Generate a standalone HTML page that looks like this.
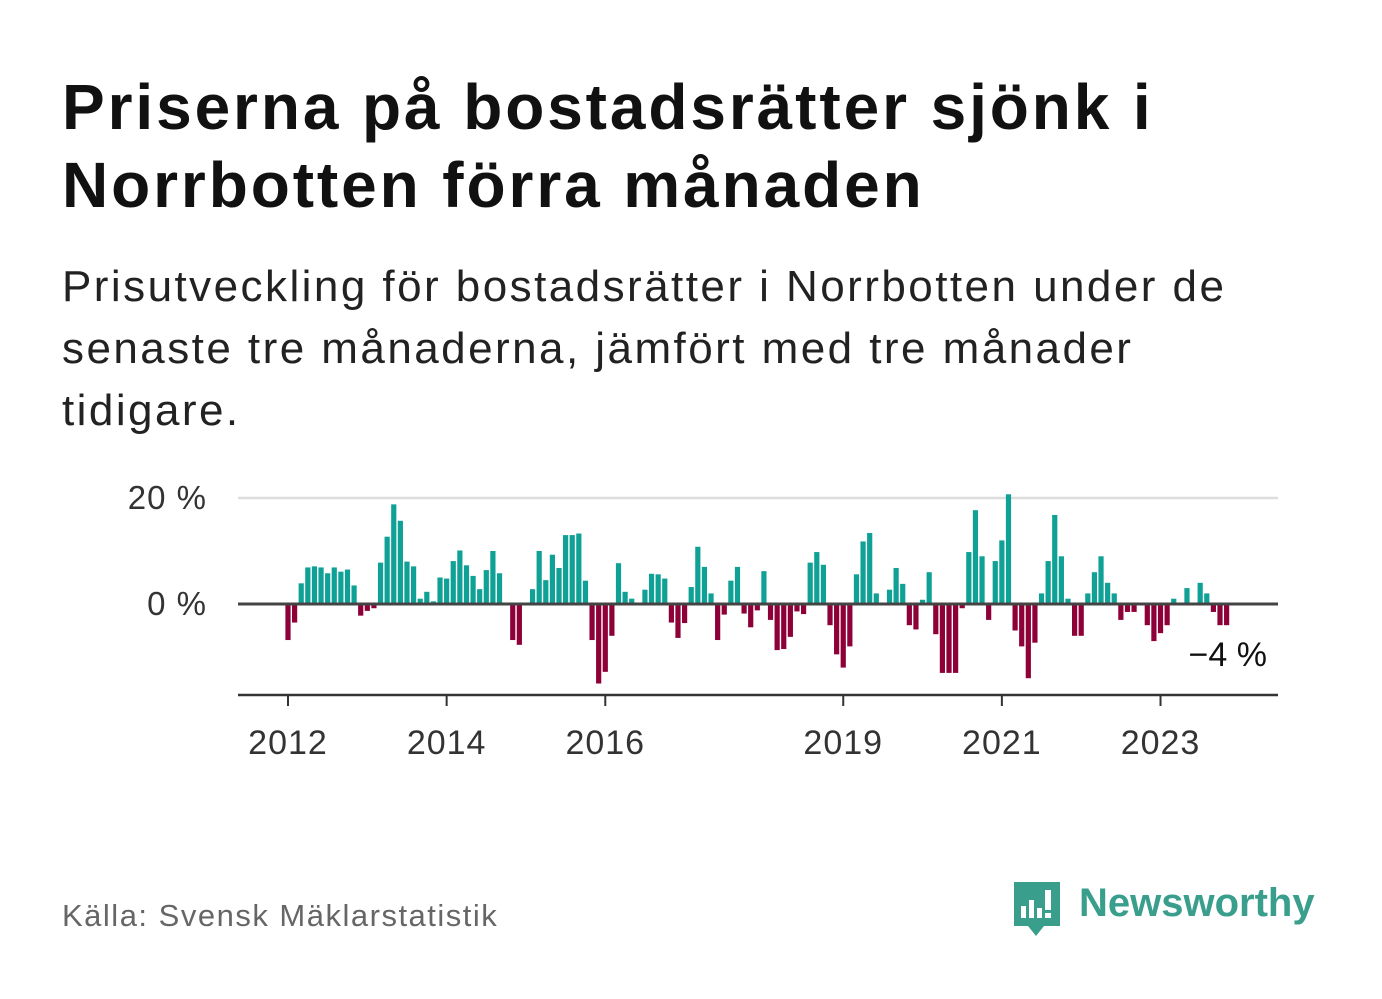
<!DOCTYPE html>
<html><head><meta charset="utf-8">
<style>
body{margin:0;background:#fff;width:1382px;height:999px;overflow:hidden;font-family:"Liberation Sans",sans-serif;}
.t{position:absolute;left:62px;top:68px;font-weight:bold;font-size:64px;line-height:78px;color:#111;letter-spacing:2.9px;margin:0}
.s{position:absolute;left:62px;top:256px;font-size:44px;line-height:62px;color:#222;margin:0;width:1250px;letter-spacing:2.45px}
.f{position:absolute;left:62px;top:898px;font-size:31px;color:#666;letter-spacing:1.5px}
</style></head><body>
<h1 class="t">Priserna på bostadsrätter sjönk i<br>Norrbotten förra månaden</h1>
<p class="s">Prisutveckling för bostadsrätter i Norrbotten under de<br>senaste tre månaderna, jämfört med tre månader<br>tidigare.</p>
<svg id="chart" width="1382" height="999" style="position:absolute;left:0;top:0" xmlns="http://www.w3.org/2000/svg"></svg>
<div class="f">Källa: Svensk Mäklarstatistik</div>
<div style="position:absolute;left:1012px;top:880px;width:310px;height:60px">
<svg width="50" height="60" style="position:absolute;left:0;top:0"><path d="M2 2h46v44h-16l-8 10-8-10H2z" fill="#3a9e8c"/><rect x="9" y="26" width="5" height="12" fill="#fff"/><rect x="17" y="20" width="5" height="18" fill="#fff"/><rect x="25" y="28" width="5" height="10" fill="#fff"/><rect x="33" y="10" width="6" height="20" fill="#fff"/><rect x="33" y="33" width="6" height="5" fill="#fff"/></svg>
<span style="position:absolute;left:67px;top:1px;font-size:40px;font-weight:bold;color:#3a9e8c">Newsworthy</span></div>
<script>
const startYear = 2012;
const values = [-6.8,-3.5,3.9,6.9,7.1,6.9,5.8,6.9,6.1,6.5,3.5,-2.2,-1.3,-0.8,7.8,12.7,18.8,15.7,8,7.1,1,2.3,0.5,5,4.8,8.1,10.1,7.3,5.3,2.8,6.4,10,5.8,0,-6.8,-7.7,0,2.8,10,4.5,9.3,6.8,13,13,13.3,4.4,-6.8,-15,-12.8,
-6,7.7,2.3,1,0,2.7,5.7,5.6,4.8,-3.5,-6.4,-3.6,3.2,10.8,7,2,-6.8,-2,4.4,7,-1.8,-4.4,-1.2,6.2,-3,-8.7,-8.5,-6.2,-1.4,-1.9,7.8,9.8,7.4,-4,-9.5,-12,-8,5.6,11.8,13.4,2,0,2.7,6.8,3.8,-4,-4.8,0.8,6,
-5.7,-13,-13,-13,-0.8,9.8,17.7,9,-3,8.1,12,20.7,-5,-8,-14,-7.3,2,8.1,16.8,9,1,-6,-6,2,6,9,4,2,-3,-1.5,-1.5,0,-4,-7,-5.5,-4,1,0,3,0,4,2,-1.5,-4,-4];
const xTicks = [2012,2014,2016,2019,2021,2023];
const yTicks = [0,20];
const yTickLabels = ["0 %","20 %"];
const lastLabel = "−4 %";

const svg = document.getElementById('chart');
const NS = "http://www.w3.org/2000/svg";
const x = m => 288 + m * 6.61;
const xYear = yr => x((yr - startYear) * 12);
const y = v => 604 - v * 5.3;
function mk(tag, attrs){const e=document.createElementNS(NS,tag);for(const k in attrs)e.setAttribute(k,attrs[k]);svg.appendChild(e);return e;}
yTicks.forEach((t,i)=>{
  if(t!==0){const g=mk('line',{x1:238,x2:1278,y1:y(t),y2:y(t),stroke:'#ddd','stroke-width':2.5});
  
  }
  const tx=mk('text',{x:207,y:y(t)+11,'text-anchor':'end','font-size':33,fill:'#333','font-family':'Liberation Sans, sans-serif','letter-spacing':1});
  tx.textContent=yTickLabels[i];
  
  
});
values.forEach((v,i)=>{
  const r=mk('rect',{x:x(i)-2.6,width:5.2,y:Math.min(y(v),y(0)),height:Math.abs(y(v)-y(0)),fill:v>=0?'#0fa195':'#8e0038'});
  
  
});
const z=mk('line',{x1:238,x2:1278,y1:y(0),y2:y(0),stroke:'#444','stroke-width':3});


const ax=mk('line',{x1:238,x2:1278,y1:695,y2:695,stroke:'#333','stroke-width':2.5});


xTicks.forEach(t=>{
  const l=mk('line',{x1:xYear(t),x2:xYear(t),y1:695,y2:706,stroke:'#333','stroke-width':2});
  
  
  const tx=mk('text',{x:xYear(t),y:754,'text-anchor':'middle','font-size':34,fill:'#333','font-family':'Liberation Sans, sans-serif','letter-spacing':1});
  tx.textContent=t;
  
  
});
const ll=mk('text',{x:1267,y:666,'text-anchor':'end','font-size':34,fill:'#111','font-family':'Liberation Sans, sans-serif'});
ll.textContent=lastLabel;


</script>
</body></html>
